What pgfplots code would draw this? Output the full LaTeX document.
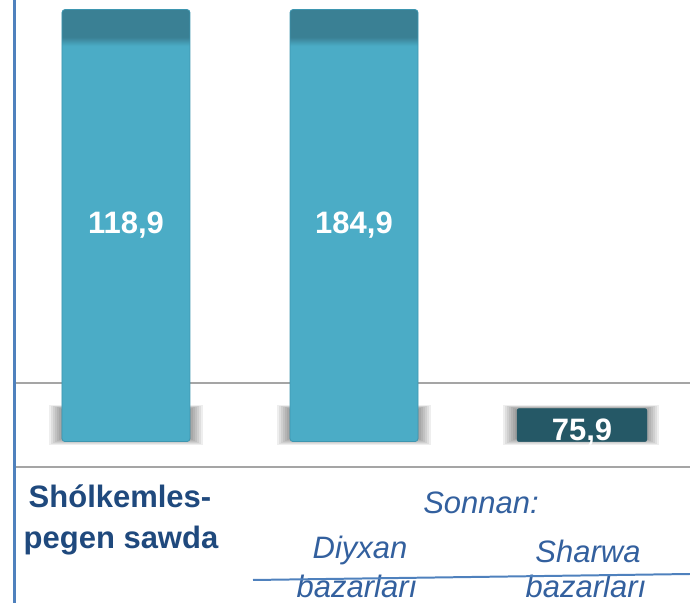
\documentclass[border=0pt]{standalone}
\usepackage{fontspec}
\setmainfont{Liberation Sans}
\usepackage{pgfplots}
\pgfplotsset{compat=1.18}
\definecolor{barmain}{RGB}{75,172,198}
\definecolor{barcap}{RGB}{58,128,148}
\definecolor{baredge}{RGB}{62,150,176}
\definecolor{bardark}{RGB}{37,88,102}
\definecolor{leftline}{RGB}{79,129,189}
\definecolor{gridgray}{RGB}{165,165,165}
\definecolor{textdark}{RGB}{31,73,125}
\definecolor{textital}{RGB}{51,96,158}
\pgfdeclareverticalshading{capbar}{100bp}{color(0bp)=(barmain); color(70.8bp)=(barmain); color(71.8bp)=(barcap); color(100bp)=(barcap)}
\newcommand\bigfont{\fontsize{31.1pt}{37pt}\selectfont}
\begin{document}
\begin{tikzpicture}[x=1bp,y=1bp]
\useasboundingbox (0,0) rectangle (690,603);
% soft shadows at the base of the bars
\foreach \cx/\hw in {126/64,354/64,581/65}{
  \foreach \k in {0,...,6}{
    \fill[black,opacity=0.065] (\cx-\hw-13+2*\k,158+\k) rectangle (\cx+\hw+13-2*\k,198-0.6*\k);
  }
}
% horizontal rules
\draw[gridgray,line width=2] (15,220) -- (690,220);
\draw[gridgray,line width=2] (15,136) -- (690,136);
% left vertical rule
\fill[leftline] (12.5,0) rectangle (16,603);
\begin{axis}[
  at={(0,142)}, anchor=south west,
  scale only axis, width=690bp, height=432bp,
  xmin=-0.5526, xmax=2.4737, ymin=73, ymax=111,
  axis lines=none, ybar,
  y filter/.expression={min(y,111)},
  point meta=rawy,
  nodes near coords={\pgfmathprintnumber[assume math mode=true,fixed,fixed zerofill,precision=1,use comma]{\pgfplotspointmeta}},
]
\addplot[bar shift=0pt, bar width=128bp, shading=capbar, draw=baredge, line width=0.8,
  rounded corners=3bp,
  every node near coord/.append style={font=\bigfont\bfseries, text=white, anchor=base, yshift=-224bp}]
  coordinates {(0,118.9) (1,184.9)};
\addplot[bar shift=0pt, bar width=130bp, fill=bardark, draw=bardark, rounded corners=2bp,
  every node near coord/.append style={font=\bigfont\bfseries, text=white, anchor=base, yshift=-32bp}]
  coordinates {(2,75.9)};
\end{axis}
% category labels
\node[anchor=base, text=textdark, font=\bigfont\bfseries] at (120,95) {Shólkemles-};
\node[anchor=base, text=textdark, font=\bigfont\bfseries] at (121,54) {pegen sawda};
\node[anchor=base, text=textital, font=\bigfont\itshape] at (481,89) {Sonnan:};
\node[anchor=base, text=textital, font=\bigfont\itshape] at (360,44) {Diyxan};
\node[anchor=base, text=textital, font=\bigfont\itshape, inner ysep=1bp] at (357,5) {bazarları};
\node[anchor=base, text=textital, font=\bigfont\itshape] at (588,40) {Sharwa};
\node[anchor=base, text=textital, font=\bigfont\itshape, inner ysep=1bp] at (586,5) {bazarları};
\draw[leftline,line width=2] (253,23) -- (690,29);
\end{tikzpicture}
\end{document}
